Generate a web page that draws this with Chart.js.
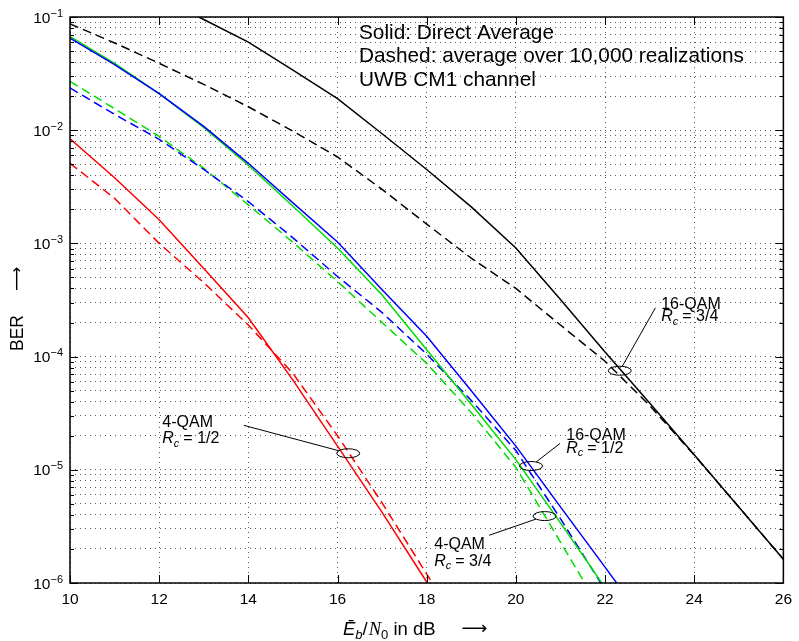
<!DOCTYPE html>
<html>
<head>
<meta charset="utf-8">
<script src="https://cdn.jsdelivr.net/npm/chart.js@4.4.1/dist/chart.umd.min.js"></script>
<style>
  html, body { margin: 0; padding: 0; background: #fff; }
</style>
</head>
<body>
<canvas id="berChart" width="799" height="641"></canvas>
<script>
// Eb/N0 in dB
const ebn0 = [10, 11, 12, 13, 14, 15, 16, 17, 18, 19, 20, 21, 22, 23, 24, 25, 26];

// BER values (solid = direct average, dashed = average over realizations)
const qam16r34Solid  = [0.30, 0.22, 0.15, 0.095, 0.060, 0.034, 0.019, 0.0093, 0.0045, 0.0021, 9.1e-4, 3.2e-4, 1.1e-4, 3.9e-5, 1.36e-5, 4.7e-6, 1.62e-6];
const qam16r34Dashed = [0.087, 0.059, 0.039, 0.0254, 0.0161, 0.0098, 0.0058, 0.0030, 0.00148, 7.4e-4, 4.0e-4, 1.9e-4, 9.1e-5, 3.7e-5, 1.35e-5, 4.7e-6, 1.62e-6];
const qam4r12Solid   = [8.4e-3, 3.8e-3, 1.62e-3, 6.0e-4, 2.2e-4, 6.2e-5, 1.62e-5, 4.2e-6, 1.02e-6, 2.5e-7];
const qam4r12Dashed  = [5.1e-3, 2.5e-3, 1.0e-3, 4.5e-4, 1.9e-4, 7.1e-5, 2.0e-5, 5.1e-6, 1.2e-6, 2.8e-7];
const qam16r12Solid  = [0.065, 0.038, 0.021, 0.0108, 0.0051, 0.00228, 1.03e-3, 3.9e-4, 1.51e-4, 5.0e-5, 1.62e-5, 4.7e-6, 1.38e-6, 4.0e-7];
const qam16r12Dashed = [0.0236, 0.0138, 0.0083, 0.0045, 0.00234, 0.00112, 5.1e-4, 2.45e-4, 1.05e-4, 4.1e-5, 1.48e-5, 3.7e-6, 8.7e-7];
const qam4r34Solid   = [0.067, 0.039, 0.021, 0.0106, 0.0049, 0.00213, 9.1e-4, 3.5e-4, 1.15e-4, 3.8e-5, 1.23e-5, 3.4e-6, 9.1e-7, 2.5e-7];
const qam4r34Dashed  = [0.027, 0.0155, 0.0088, 0.0046, 0.00219, 1.02e-3, 4.6e-4, 2.0e-4, 8.7e-5, 3.2e-5, 1.05e-5, 2.3e-6, 5.0e-7];

// axis ticks
const xTicks = [10, 12, 14, 16, 18, 20, 22, 24, 26];
const yDecades = [-6, -5, -4, -3, -2, -1];
const yGrid = [];
yDecades.forEach((e) => {
  for (let m = 1; m <= (e === -1 ? 1 : 9); m++) yGrid.push(m * Math.pow(10, e));
});

// curve labels: ellipse centre, leader tail, text anchor (data coords)
const notes = [
  { qam: "4-QAM",  rate: "1/2", at: [16.24, 1.4e-5],  tail: [13.90, 2.47e-5], text: [12.07, 2.40e-5], gap: 16.5 },
  { qam: "16-QAM", rate: "1/2", at: [20.34, 1.08e-5], tail: [20.99, 1.71e-5], text: [21.13, 1.83e-5], gap: 12.5 },
  { qam: "4-QAM",  rate: "3/4", at: [20.645, 3.9e-6], tail: [19.40, 2.64e-6], text: [18.17, 1.99e-6], gap: 16.5 },
  { qam: "16-QAM", rate: "3/4", at: [22.33, 7.5e-5],  tail: [23.13, 2.7e-4],  text: [23.26, 2.65e-4], gap: 12.5 },
];
const infoLines = ["Solid: Direct Average", "Dashed: average over 10,000 realizations", "UWB CM1 channel"];

const SANS = '"Liberation Sans", Arial, sans-serif';
const toPts = (ys) => ys.map((y, i) => ({ x: ebn0[i], y }));
const isDecade = (v) => Math.abs(Math.log10(v) - Math.round(Math.log10(v))) < 1e-9;

function series(data, color, dashed) {
  return {
    data: toPts(data),
    borderColor: color,
    borderWidth: 1.5,
    borderDash: dashed ? [9, 5] : [],
    pointRadius: 0,
    tension: 0,
    fill: false,
  };
}

function drawRate(ctx, x, y, frac) {
  ctx.font = "italic 16px " + SANS;
  ctx.fillText("R", x, y);
  let w = ctx.measureText("R").width;
  ctx.font = "italic 11px " + SANS;
  ctx.fillText("c", x + w, y + 3.5);
  w += ctx.measureText("c").width + 4;
  ctx.font = "16px " + SANS;
  ctx.fillText("= " + frac, x + w, y);
}

const decor = {
  id: "decor",
  afterDraw(chart) {
    const { ctx, chartArea: a, scales } = chart;
    const xs = scales.x, ys = scales.y;
    ctx.save();
    ctx.strokeStyle = "#000";
    ctx.fillStyle = "#000";

    // inward tick marks
    ctx.lineWidth = 1;
    ctx.beginPath();
    yGrid.forEach((v) => {
      const py = Math.round(ys.getPixelForValue(v)) + 0.5;
      const len = isDecade(v) ? 8 : 4;
      ctx.moveTo(a.left, py); ctx.lineTo(a.left + len, py);
      ctx.moveTo(a.right, py); ctx.lineTo(a.right - len, py);
    });
    xTicks.forEach((v) => {
      const px = Math.round(xs.getPixelForValue(v)) + 0.5;
      ctx.moveTo(px, a.bottom); ctx.lineTo(px, a.bottom - 8);
      ctx.moveTo(px, a.top); ctx.lineTo(px, a.top + 8);
    });
    ctx.stroke();

    // box
    ctx.lineWidth = 1.5;
    ctx.strokeRect(a.left, a.top, a.right - a.left, a.bottom - a.top);

    // y tick labels 10^e
    ctx.textBaseline = "alphabetic";
    ctx.textAlign = "left";
    yDecades.forEach((e) => {
      const py = ys.getPixelForValue(Math.pow(10, e));
      const ex = "\u2212" + String(-e);
      ctx.font = "11px " + SANS;
      const we = ctx.measureText(ex).width;
      ctx.font = "15.5px " + SANS;
      const wb = ctx.measureText("10").width;
      const x0 = a.left - 7 - we - wb;
      ctx.fillText("10", x0, py + 5.5);
      ctx.font = "11px " + SANS;
      ctx.fillText(ex, x0 + wb, py - 0.5);
    });

    // curve labels
    ctx.lineWidth = 1;
    notes.forEach((n) => {
      const cx = xs.getPixelForValue(n.at[0]), cy = ys.getPixelForValue(n.at[1]);
      const tx = xs.getPixelForValue(n.tail[0]), ty = ys.getPixelForValue(n.tail[1]);
      const rx = 11.5, ry = 4.5;
      const dx = tx - cx, dy = ty - cy;
      const k = 1 / Math.sqrt((dx / rx) ** 2 + (dy / ry) ** 2);
      ctx.beginPath();
      ctx.ellipse(cx, cy, rx, ry, 0, 0, Math.PI * 2);
      ctx.stroke();
      ctx.beginPath();
      ctx.moveTo(cx + dx * k, cy + dy * k);
      ctx.lineTo(tx, ty);
      ctx.stroke();
      const lx = xs.getPixelForValue(n.text[0]), ly = ys.getPixelForValue(n.text[1]);
      ctx.font = "16px " + SANS;
      ctx.fillText(n.qam, lx, ly);
      drawRate(ctx, lx, ly + n.gap, n.rate);
    });

    // info text
    ctx.font = "20.8px " + SANS;
    infoLines.forEach((t, i) => ctx.fillText(t, a.left + 289, a.top + 22 + i * 23.3));

    // x title
    let x = 343;
    const base = 635;
    const parts = [
      ["\u0112", "italic 18.5px " + SANS, 0],
      ["b", "italic 13px " + SANS, 4],
      ["/", "18.5px " + SANS, 0],
      ["N", 'italic 18.5px "Liberation Serif", serif', 0],
      ["0", "13px " + SANS, 4],
      [" in dB", "18.5px " + SANS, 0],
    ];
    parts.forEach(([t, f, d]) => {
      ctx.font = f;
      ctx.fillText(t, x, base + d);
      x += ctx.measureText(t).width + (t === "/" ? 1 : 0);
    });
    ctx.font = '18px "DejaVu Sans", sans-serif';
    ctx.fillText("\u27F6", x + 26, base - 1);

    // y title
    ctx.translate(23, 351);
    ctx.rotate(-Math.PI / 2);
    ctx.font = "17.5px " + SANS;
    ctx.fillText("BER", 0, 0);
    ctx.font = '17px "DejaVu Sans", sans-serif';
    ctx.fillText("\u27F6", 60, -1);
    ctx.restore();
  },
};

new Chart(document.getElementById("berChart"), {
  type: "line",
  data: {
    datasets: [
      series(qam16r12Solid, "#0000ff", false),
      series(qam4r34Solid, "#00dd00", false),
      series(qam16r12Dashed, "#0000ff", true),
      series(qam4r34Dashed, "#00dd00", true),
      series(qam4r12Solid, "#ff0000", false),
      series(qam4r12Dashed, "#ff0000", true),
      series(qam16r34Solid, "#000000", false),
      series(qam16r34Dashed, "#000000", true),
    ],
  },
  options: {
    responsive: false,
    animation: false,
    devicePixelRatio: 1,
    layout: { padding: { left: 10, right: 11, top: 17, bottom: 18 } },
    plugins: { legend: { display: false }, tooltip: { enabled: false } },
    scales: {
      x: {
        type: "linear",
        min: 10,
        max: 26,
        afterBuildTicks: (s) => { s.ticks = xTicks.map((v) => ({ value: v })); },
        afterFit: (s) => { s.height = 40; },
        ticks: { color: "#000", font: { family: SANS, size: 15.5 }, padding: 7, maxRotation: 0, autoSkip: false },
        grid: { color: "rgba(0,0,0,0.65)", lineWidth: 1, drawTicks: false },
        border: { display: false, dash: [1, 4] },
      },
      y: {
        type: "logarithmic",
        min: 1e-6,
        max: 1e-1,
        afterBuildTicks: (s) => { s.ticks = yGrid.map((v) => ({ value: v })); },
        afterFit: (s) => { s.width = 60; },
        ticks: { display: false, autoSkip: false },
        grid: { color: "rgba(0,0,0,0.65)", lineWidth: 1, drawTicks: false },
        border: { display: false, dash: [1, 4] },
      },
    },
  },
  plugins: [decor],
});
</script>
</body>
</html>
